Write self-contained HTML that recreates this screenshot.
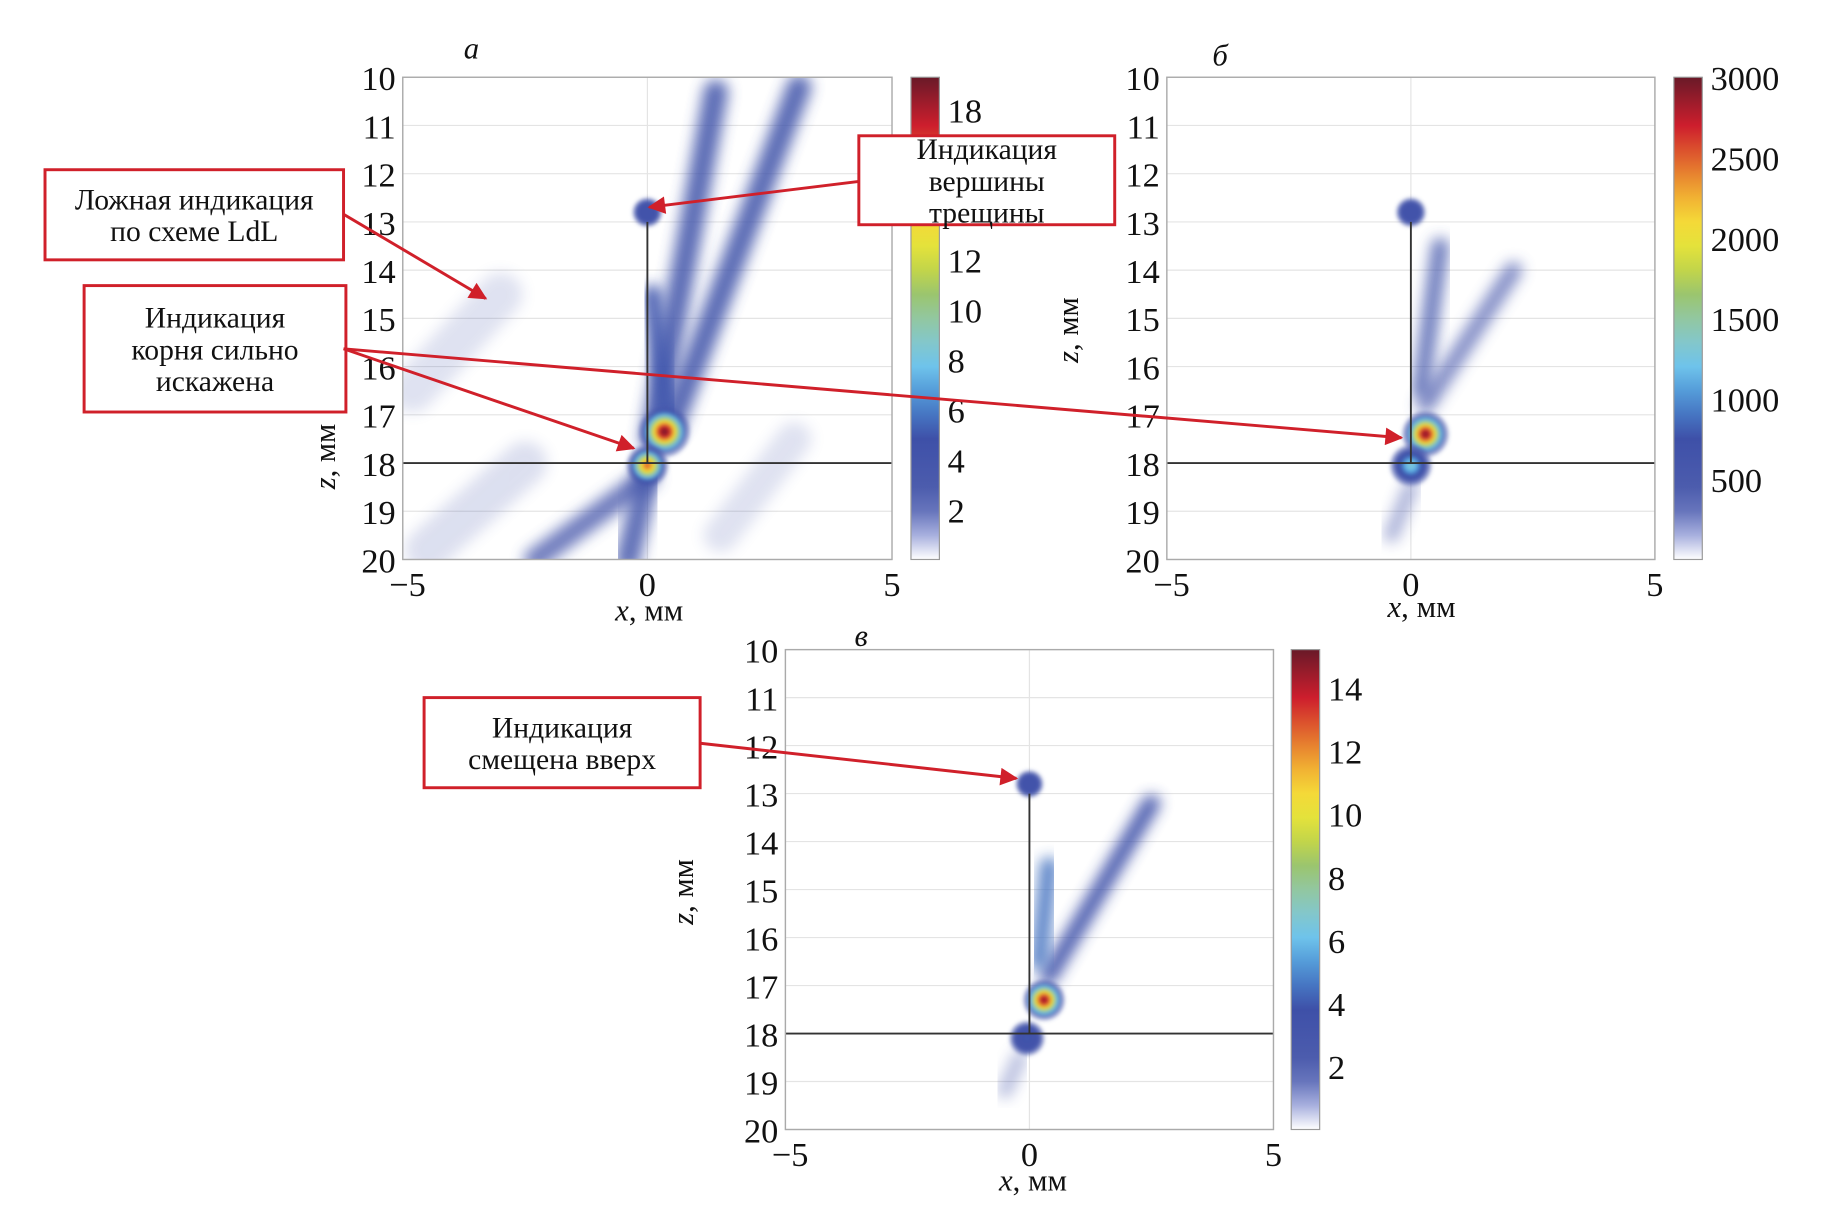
<!DOCTYPE html>
<html><head><meta charset="utf-8"><style>
html,body{margin:0;padding:0;background:#fff;width:1848px;height:1229px;overflow:hidden}
svg text{font-family:"Liberation Serif",serif;fill:#111}
</style></head><body>
<svg id="fig" width="1848" height="1229" viewBox="0 0 1560 1050" preserveAspectRatio="none" xmlns="http://www.w3.org/2000/svg">
<defs>
<filter id="blur3" x="-50%" y="-50%" width="200%" height="200%"><feGaussianBlur stdDeviation="1.5"/></filter>
<filter id="blur6" x="-50%" y="-50%" width="200%" height="200%"><feGaussianBlur stdDeviation="6"/></filter>
<marker id="arr" viewBox="0 0 10 10" refX="9" refY="5" markerWidth="7" markerHeight="6" orient="auto"><path d="M0,0 L10,5 L0,10 z" fill="#d0202a"/></marker>
</defs>
<g id="root"></g>
</svg>
<script>
// ---- data ----
const xTicks = [-5, 0, 5];
const zTicks = [10, 11, 12, 13, 14, 15, 16, 17, 18, 19, 20];
const cbTicksA = [2, 4, 6, 8, 10, 12, 14, 16, 18];
const cbTicksB = [500, 1000, 1500, 2000, 2500, 3000];
const cbTicksC = [2, 4, 6, 8, 10, 12, 14];
// blobs: [x mm, z mm, peak value, radius mm]
const blobsA = [[0.35, 17.35, 19, 0.55], [0.0, 18.05, 16, 0.45], [0.0, 12.8, 3, 0.32]];
const blobsB = [[0.3, 17.4, 2900, 0.5], [0.0, 18.05, 1300, 0.45], [0.0, 12.8, 500, 0.32]];
const blobsC = [[0.3, 17.3, 14.5, 0.45], [-0.05, 18.1, 4, 0.38], [0.0, 12.8, 3, 0.3]];
// streaks: [x1, z1, x2, z2, value, width mm]
const streaksA = [[0.1, 17.5, 1.4, 10.3, 2.5, 0.5], [0.5, 17.2, 3.1, 10.2, 2.5, 0.5], [0.0, 18.3, -2.3, 20.0, 2.2, 0.45], [0.0, 18.3, -0.4, 20.0, 2.4, 0.5], [0.0, 13.0, 0.0, 10.2, 0.6, 0.45], [0.4, 17.0, 0.1, 14.5, 3, 0.4], [-4.8, 16.5, -3.0, 14.5, 0.3, 0.9], [-4.5, 19.8, -2.5, 18.0, 0.35, 0.9], [1.5, 19.5, 3.0, 17.5, 0.3, 0.7]];
const streaksB = [[0.3, 16.8, 2.1, 14.0, 300, 0.35], [0.2, 16.5, 0.6, 13.5, 350, 0.35], [0.0, 18.5, -0.4, 19.5, 200, 0.3]];
const streaksC = [[0.4, 16.8, 2.5, 13.2, 2.2, 0.35], [0.2, 16.5, 0.4, 14.5, 3, 0.35], [-0.2, 18.5, -0.5, 19.2, 0.8, 0.3]];

const panels = [
  {id:'a', x0:340, x1:753, y0:66, y1:478, cbx:769, vmax:19.3, cb:cbTicksA, blobs:blobsA, streaks:streaksA, letter:'а', lx:398, ly:50, zx:283, zy:390, xl:[548,530]},
  {id:'b', x0:985, x1:1397, y0:66, y1:478, cbx:1413, vmax:3000, cb:cbTicksB, blobs:blobsB, streaks:streaksB, letter:'б', lx:1030, ly:56, zx:910, zy:282, xl:[1200,527]},
  {id:'c', x0:663, x1:1075, y0:555, y1:965, cbx:1090, vmax:15.2, cb:cbTicksC, blobs:blobsC, streaks:streaksC, letter:'в', lx:727, ly:552, zx:585, zy:762, xl:[872,1017]}
];
const NS = 'http://www.w3.org/2000/svg';
const root = document.getElementById('root');
function mk(tag, attrs, parent){const e=document.createElementNS(NS,tag);for(const k in attrs)e.setAttribute(k,attrs[k]);(parent||root).appendChild(e);return e;}
const cmapStops = [[0,[255,255,255]],[0.06,[150,160,215]],[0.12,[80,95,175]],[0.25,[62,80,168]],[0.33,[75,140,210]],[0.4,[110,195,235]],[0.47,[140,200,190]],[0.55,[155,197,110]],[0.62,[210,220,60]],[0.68,[245,232,58]],[0.76,[240,170,50]],[0.83,[225,100,45]],[0.9,[205,30,45]],[1,[105,25,40]]];
function cmap(t){t=Math.max(0,Math.min(1,t));for(let i=1;i<cmapStops.length;i++){if(t<=cmapStops[i][0]){const a=cmapStops[i-1],b=cmapStops[i];const f=(t-a[0])/(b[0]-a[0]);const c=a[1].map((v,j)=>Math.round(v+(b[1][j]-v)*f));return `rgb(${c})`;}}return 'rgb(105,25,40)';}

panels.forEach(p=>{
  const g = mk('g',{});
  
  
  const sx = v => p.x0 + (v+5)/10*(p.x1-p.x0);
  const sz = v => p.y0 + (v-10)/10*(p.y1-p.y0);
  const pxmm = (p.x1-p.x0)/10;
  const clipId='clip'+p.id;
  const cp=mk('clipPath',{id:clipId},g); mk('rect',{x:p.x0,y:p.y0,width:p.x1-p.x0,height:p.y1-p.y0},cp);
  zTicks.forEach(z=>{const l=mk('line',{x1:p.x0,x2:p.x1,y1:sz(z),y2:sz(z),stroke:'#e4e4e4','stroke-width':1},g);});
  mk('line',{x1:sx(0),x2:sx(0),y1:p.y0,y2:p.y1,stroke:'#e4e4e4','stroke-width':1},g);
  const hm = mk('g',{'clip-path':`url(#${clipId})`},g);
  
  
  p.streaks.forEach(s=>{
    const r=s[4]/p.vmax;
    const l=mk('line',{x1:sx(s[0]),y1:sz(s[1]),x2:sx(s[2]),y2:sz(s[3]),stroke:cmap(Math.max(r*0.9+0.12,0.16)),'stroke-width':s[5]*pxmm,'stroke-linecap':'round',filter:'url(#blur6)',opacity:Math.min(0.92,0.08+r*6)},hm);
    
    
  });
  p.blobs.forEach((b,i)=>{
    const gid='rg'+p.id+i;
    const rg=mk('radialGradient',{id:gid},g);
    const peak=b[2]/p.vmax;
    for(let k=0;k<=10;k++){const t=k/10;const e=Math.exp(-2.4*t*t);const v=peak*e;mk('stop',{offset:t,'stop-color':cmap(Math.max(v,0.22)),'stop-opacity':Math.min(1,e*3)*(k==10?0:1)},rg);}
    const c=mk('circle',{cx:sx(b[0]),cy:sz(b[1]),r:b[3]*pxmm,fill:`url(#${gid})`,filter:'url(#blur3)'},hm);
    
    
  });
  mk('line',{x1:p.x0,x2:p.x1,y1:sz(18),y2:sz(18),stroke:'#333','stroke-width':1.6},g);
  mk('line',{x1:sx(0),x2:sx(0),y1:sz(13),y2:sz(18),stroke:'#333','stroke-width':1.6},g);
  const fr=mk('rect',{x:p.x0,y:p.y0,width:p.x1-p.x0,height:p.y1-p.y0,fill:'none',stroke:'#aaa','stroke-width':1.2},g);
  
  zTicks.forEach(z=>{const t=mk('text',{x:p.x0-6,y:sz(z)+11,'text-anchor':'end','font-size':29},g);t.textContent=z;});
  xTicks.forEach(x=>{const t=mk('text',{x:sx(x)+(x<0?4:0),y:p.y1+31,'text-anchor':'middle','font-size':29},g);t.textContent=x<0?'\u2212'+Math.abs(x):x;});
  const xl=mk('text',{x:p.xl[0],y:p.xl[1],'text-anchor':'middle','font-size':26},g);
  xl.innerHTML='<tspan font-style="italic">x</tspan>, мм';
  
  const zl=mk('text',{x:p.zx,y:p.zy,'text-anchor':'middle','font-size':26,transform:`rotate(-90 ${p.zx} ${p.zy})`},g);
  zl.innerHTML='<tspan font-style="italic">z</tspan>, мм';
  
  const lt=mk('text',{x:p.lx,y:p.ly,'text-anchor':'middle','font-size':26,'font-style':'italic'},g);
  lt.textContent=p.letter;
  const cgid='cb'+p.id;
  const lg=mk('linearGradient',{id:cgid,x1:0,y1:1,x2:0,y2:0},g);
  for(let k=0;k<=20;k++){mk('stop',{offset:k/20,'stop-color':cmap(k/20)},lg);}
  const cbr=mk('rect',{x:p.cbx,y:p.y0,width:24,height:p.y1-p.y0,fill:`url(#${cgid})`,stroke:'#999','stroke-width':1},g);
  
  p.cb.forEach(v=>{const y=p.y1-v/p.vmax*(p.y1-p.y0);const t=mk('text',{x:p.cbx+31,y:y+11,'font-size':29},g);t.textContent=v;});
});

const boxes=[
  [38,145,252,77,['Ложная индикация','по схеме LdL']],
  [71,244,221,108,['Индикация','корня сильно','искажена']],
  [725,116,216,76,['Индикация','вершины','трещины']],
  [358,596,233,77,['Индикация','смещена вверх']]
];
boxes.forEach(b=>{
  const g=mk('g',{});
  
  
  mk('rect',{x:b[0],y:b[1],width:b[2],height:b[3],fill:'#fff',stroke:'#d0202a','stroke-width':2.5},g);
  const n=b[4].length, lh=27, top=b[1]+b[3]/2-(n-1)*lh/2+9;
  b[4].forEach((s,i)=>{const t=mk('text',{x:b[0]+b[2]/2,y:top+i*lh,'text-anchor':'middle','font-size':25},g);t.textContent=s;});
});
const arrows=[[290,183,410,255],[290,298,535,383],[290,298,1183,374],[725,155,548,177],[591,635,858,665]];
arrows.forEach(a=>{const l=mk('line',{x1:a[0],y1:a[1],x2:a[2],y2:a[3],stroke:'#d0202a','stroke-width':2.5,'marker-end':'url(#arr)'});});
</script>
</body></html>
